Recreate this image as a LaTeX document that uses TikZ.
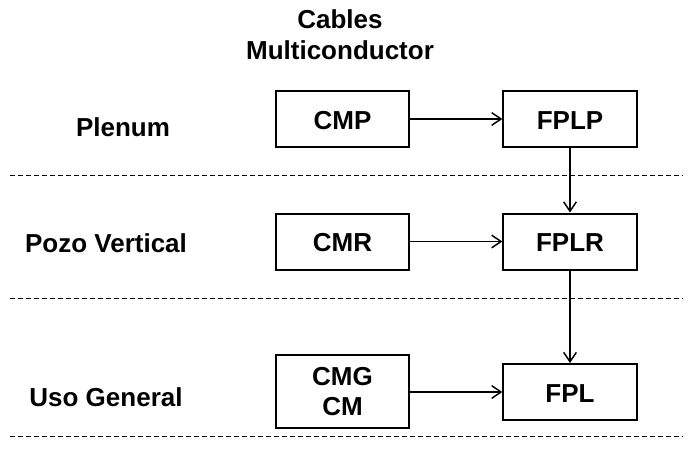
\documentclass[tikz,border=0pt]{standalone}
\usepackage{fontspec}
\setmainfont{Liberation Sans}
\usetikzlibrary{arrows.meta}
\begin{document}
\begin{tikzpicture}[x=0.75pt,y=-0.75pt,
  txt/.style={font=\fontsize{19.5}{23}\selectfont\bfseries},
  box/.style={txt,draw,line width=1.5pt,minimum width=100pt,inner sep=0pt,align=center},
  onebox/.style={box,minimum height=42pt,text height=15pt,text depth=0pt},
  conn/.style={line width=1.1pt,-{Straight Barb[length=7pt,width=9.5pt]}},
  sep/.style={line width=0.7pt,dash pattern=on 3.5pt off 2.5pt}]
\useasboundingbox (0,0) rectangle (692,450);
\node[txt,align=center] (title) at (340,35) {Cables\\Multiconductor};
\node[txt] (l1) at (123,127) {Plenum};
\node[txt] (l2) at (106,243) {Pozo Vertical};
\node[txt] (l3) at (106,397) {Uso General};
\node[onebox] (cmp) at (342.5,119) {CMP};
\node[onebox] (fplp) at (570,119) {FPLP};
\node[onebox] (cmr) at (342.5,241.5) {CMR};
\node[onebox] (fplr) at (570,241.5) {FPLR};
\node[box,minimum height=54.5pt] (cmg) at (342.5,391.5) {CMG\\CM};
\node[onebox] (fpl) at (570,392) {FPL};
\coordinate (d1a) at (10,175); \coordinate (d1b) at (683,175);
\coordinate (d2a) at (10,298); \coordinate (d2b) at (683,298);
\coordinate (d3a) at (10,436); \coordinate (d3b) at (683,436);
\draw[sep] (d1a) -- (d1b);
\draw[sep] (d2a) -- (d2b);
\draw[sep] (d3a) -- (d3b);
\draw[conn] (cmp) -- (fplp);
\draw[conn] (cmr) -- (fplr);
\draw[conn] (cmg.east |- fpl) -- (fpl);
\draw[conn] (fplp) -- (fplr);
\draw[conn] (fplr) -- (fpl);
\end{tikzpicture}
\end{document}
